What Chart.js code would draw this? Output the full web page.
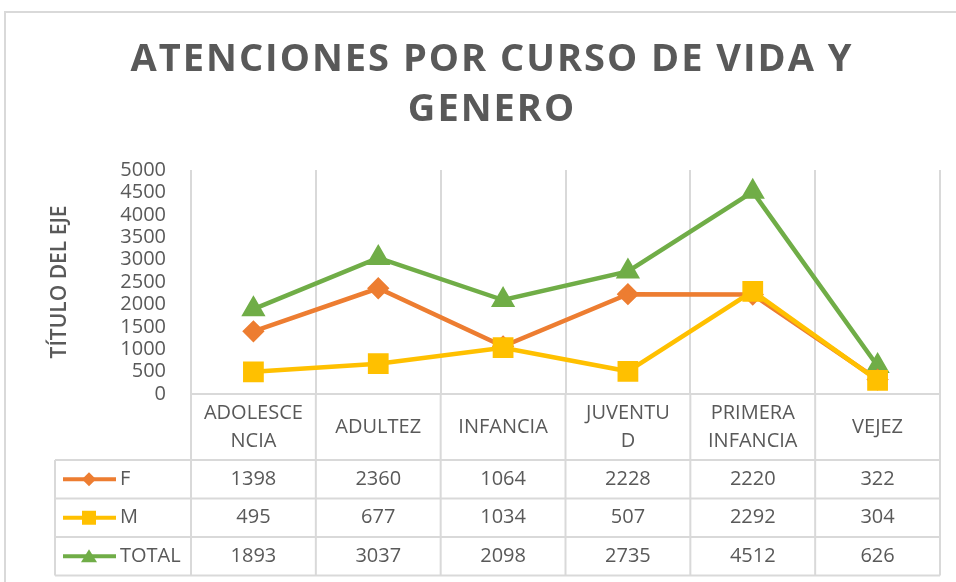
<!DOCTYPE html>
<html>
<head>
<meta charset="utf-8">
<script src="https://cdn.jsdelivr.net/npm/chart.js@4.4.1/dist/chart.umd.min.js"></script>
<style>
  html, body { margin: 0; padding: 0; background: #fff; }
  #wrap { position: relative; width: 956px; height: 582px; }
</style>
</head>
<body>
<div id="wrap"><canvas id="chart" width="956" height="582"></canvas></div>
<script>
// data
const titleLines = ["ATENCIONES POR CURSO DE VIDA Y", "GENERO"];
const axisTitle = "TÍTULO DEL EJE";
const categories = ["ADOLESCENCIA", "ADULTEZ", "INFANCIA", "JUVENTUD", "PRIMERA INFANCIA", "VEJEZ"];
const categoryLines = [["ADOLESCE", "NCIA"], ["ADULTEZ"], ["INFANCIA"], ["JUVENTU", "D"], ["PRIMERA", "INFANCIA"], ["VEJEZ"]];
const seriesNames = ["F", "M", "TOTAL"];
const fValues = [1398, 2360, 1064, 2228, 2220, 322];
const mValues = [495, 677, 1034, 507, 2292, 304];
const totalValues = [1893, 3037, 2098, 2735, 4512, 626];

const TEXT = "#595959";
const GRID = "#d9d9d9";
const FONT = "'Open Sans', sans-serif";

// markers for the table keys
function drawKey(ctx, style, color, cx, cy) {
  ctx.fillStyle = color;
  ctx.beginPath();
  if (style === "rectRot") {
    ctx.moveTo(cx, cy - 7); ctx.lineTo(cx + 7, cy); ctx.lineTo(cx, cy + 7); ctx.lineTo(cx - 7, cy);
  } else if (style === "rect") {
    ctx.rect(cx - 7, cy - 7, 14, 14);
  } else {
    ctx.moveTo(cx, cy - 7); ctx.lineTo(cx + 8, cy + 6); ctx.lineTo(cx - 8, cy + 6);
  }
  ctx.closePath();
  ctx.fill();
}

// frame + title + data table
const tablePlugin = {
  id: "dataTable",
  beforeDraw(chart) {
    const ctx = chart.ctx;
    ctx.save();
    ctx.fillStyle = "#fff";
    ctx.fillRect(0, 0, chart.width, chart.height);
    ctx.strokeStyle = GRID;
    ctx.lineWidth = 2;
    ctx.beginPath();
    ctx.moveTo(5, chart.height);
    ctx.lineTo(5, 12);
    ctx.lineTo(chart.width, 12);
    ctx.stroke();

    // title with letter spacing
    ctx.fillStyle = TEXT;
    ctx.font = "bold 38px " + FONT;
    ctx.textAlign = "center";
    ctx.textBaseline = "middle";
    const w = ctx.measureText(titleLines[0]).width;
    const spacing = Math.max(0, (722 - w) / (titleLines[0].length - 1));
    ctx.letterSpacing = spacing.toFixed(1) + "px";
    ctx.fillText(titleLines[0], 491 + spacing / 2, 60);
    ctx.fillText(titleLines[1], 491 + spacing / 2, 110);
    ctx.restore();
  },
  afterDraw(chart) {
    const { ctx, chartArea } = chart;
    const xs = chart.scales.x;
    const colW = (chartArea.right - chartArea.left) / categories.length;
    const top = chartArea.bottom;
    const headerBottom = top + 66;
    const rowH = 38.5;
    const tableBottom = headerBottom + rowH * 3;
    const tableLeft = 55;

    ctx.save();
    ctx.strokeStyle = GRID;
    ctx.lineWidth = 2;
    ctx.beginPath();
    for (let i = 0; i <= categories.length; i++) {
      const bx = chartArea.left + i * colW;
      ctx.moveTo(bx, top);
      ctx.lineTo(bx, tableBottom);
    }
    ctx.moveTo(tableLeft, headerBottom);
    ctx.lineTo(tableLeft, tableBottom);
    for (let r = 0; r <= 3; r++) {
      const ry = headerBottom + r * rowH;
      ctx.moveTo(tableLeft, ry);
      ctx.lineTo(chartArea.right, ry);
    }
    ctx.stroke();

    // header labels
    ctx.fillStyle = TEXT;
    ctx.font = "20px " + FONT;
    ctx.textAlign = "center";
    ctx.textBaseline = "middle";
    categoryLines.forEach((lines, i) => {
      const cx = xs.getPixelForValue(i);
      const mid = (top + headerBottom) / 2;
      lines.forEach((t, k) => {
        ctx.fillText(t, cx, mid + (k - (lines.length - 1) / 2) * 28);
      });
    });

    // rows
    chart.data.datasets.forEach((ds, r) => {
      const cy = headerBottom + rowH * (r + 0.5);
      ctx.strokeStyle = ds.borderColor;
      ctx.lineWidth = 4;
      ctx.beginPath();
      ctx.moveTo(63, cy);
      ctx.lineTo(116, cy);
      ctx.stroke();
      drawKey(ctx, ds.pointStyle, ds.borderColor, 89, cy);

      ctx.fillStyle = TEXT;
      ctx.textAlign = "left";
      ctx.fillText(ds.label, 120, cy);
      ctx.textAlign = "center";
      ds.data.forEach((v, i) => {
        ctx.fillText(String(v), xs.getPixelForValue(i), cy);
      });
    });
    ctx.restore();
  }
};

new Chart(document.getElementById("chart"), {
  type: "line",
  data: {
    labels: categories,
    datasets: [
      {
        label: seriesNames[0], data: fValues, order: 1,
        borderColor: "#ED7D31", backgroundColor: "#ED7D31",
        pointStyle: "rectRot", pointRadius: 8, borderWidth: 4.5
      },
      {
        label: seriesNames[1], data: mValues, order: 0,
        borderColor: "#FFC000", backgroundColor: "#FFC000",
        pointStyle: "rect", pointRadius: 11.5, borderWidth: 4.5
      },
      {
        label: seriesNames[2], data: totalValues, order: 2,
        borderColor: "#70AD47", backgroundColor: "#70AD47",
        pointStyle: "triangle", pointRadius: 9.5, borderWidth: 4.5
      }
    ]
  },
  options: {
    responsive: false,
    animation: false,
    layout: { padding: { top: 170, left: 45, right: 14, bottom: 188 } },
    elements: {
      line: { tension: 0 },
      point: { borderWidth: 1 }
    },
    plugins: {
      legend: { display: false },
      title: { display: false },
      tooltip: { enabled: false }
    },
    scales: {
      x: {
        offset: true,
        ticks: { display: false },
        grid: { offset: true, color: GRID, lineWidth: 2, drawTicks: false },
        border: { display: true, color: GRID, width: 2 }
      },
      y: {
        min: 0,
        max: 5000,
        ticks: {
          stepSize: 500, autoSkip: false, padding: 17, color: TEXT,
          font: { family: FONT, size: 20, lineHeight: 1 },
          callback: (v) => String(v)
        },
        grid: { display: false },
        border: { display: false },
        title: {
          display: true, text: axisTitle, color: TEXT,
          font: { family: FONT, size: 21, weight: "600" },
          padding: { top: 2, bottom: 2 }
        },
        afterFit(scale) { scale.width = 146; }
      }
    }
  },
  plugins: [tablePlugin]
});
</script>
</body>
</html>
